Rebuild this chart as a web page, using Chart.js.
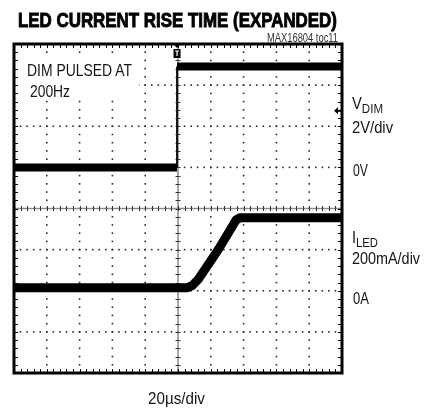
<!DOCTYPE html>
<html>
<head>
<meta charset="utf-8">
<title>LED Current Rise Time (Expanded)</title>
<script src="https://cdn.jsdelivr.net/npm/chart.js@4.4.1/dist/chart.umd.min.js"></script>
<style>
    html, body { margin: 0; padding: 0; background: #fff; }
    #wrap { position: relative; width: 426px; height: 411px; overflow: hidden; }
    #scope { position: absolute; left: 0; top: 0; }
    .note-bg { position: absolute; left: 19px; top: 57px; width: 120px; height: 43px; background: #fff; }
    .lbl {
        position: absolute;
        font-family: "Liberation Sans Narrow", "Liberation Sans", sans-serif;
        line-height: 1;
        white-space: nowrap;
        color: #151515;
        transform-origin: 0 0;
    }
    .lbl sub { font-size: 0.78em; vertical-align: baseline; position: relative; top: 4px; }
    .title { font-weight: bold; color: #000; -webkit-text-stroke: 0.9px #000; }
</style>
</head>
<body>
<div id="wrap">
    <canvas id="scope" width="426" height="411"></canvas>
    <div class="note-bg"></div>
    <div class="lbl title" data-w="319" style="left:18px; top:10px; font-size:20px;">LED CURRENT RISE TIME (EXPANDED)</div>
    <div class="lbl" data-w="71" style="left:267px; top:31.8px; font-size:12px; color:#333;">MAX16804 toc11</div>
    <div class="lbl" data-w="105" style="left:27px; top:62px; font-size:17px;">DIM PULSED AT</div>
    <div class="lbl" data-w="40" style="left:30px; top:82.6px; font-size:17px;">200Hz</div>
    <div class="lbl" data-w="31" style="left:352px; top:95px; font-size:17px;">V<sub>DIM</sub></div>
    <div class="lbl" data-w="41" style="left:352px; top:118.6px; font-size:17px;">2V/div</div>
    <div class="lbl" data-w="15" style="left:353px; top:162px; font-size:17px;">0V</div>
    <div class="lbl" data-w="26" style="left:352px; top:229px; font-size:17px;">I<sub>LED</sub></div>
    <div class="lbl" data-w="68" style="left:352px; top:249.6px; font-size:17px;">200mA/div</div>
    <div class="lbl" data-w="16" style="left:353px; top:289.6px; font-size:17px;">0A</div>
    <div class="lbl" data-w="57" style="left:147.5px; top:389.6px; font-size:17px;">20µs/div</div>
</div>
<script>
// --- Data (time in µs, trigger at 0) ---
const VDIM_TIME_US = [-100, -0.6, -0.6, 100];
const VDIM_VOLTS = [0, 0, 4.9, 4.9];

const ILED_TIME_US = [-100, 5.5, 8.5, 12.2, 24.4, 32.9, 35.4, 37.8, 100];
const ILED_MA = [15, 15, 24, 54, 198, 310, 344, 355, 355];

// --- Scope settings ---
const TIME_PER_DIV = 20;     // µs/div
const VOLTS_PER_DIV = 2;     // V/div
const MA_PER_DIV = 200;      // mA/div
const H_DIVS = 10;
const V_DIVS = 8;
const VDIM_ZERO_DIV = 3;     // 0V three divisions from top
const ILED_ZERO_DIV = 6;     // 0A six divisions from top
const TRIG_TIME_US = -0.6;
const TRIG_LEVEL_V = 2.75;

const X_MIN = -TIME_PER_DIV * H_DIVS / 2;
const X_MAX = TIME_PER_DIV * H_DIVS / 2;
const V_MAX = VOLTS_PER_DIV * VDIM_ZERO_DIV;
const V_MIN = V_MAX - VOLTS_PER_DIV * V_DIVS;
const I_MAX = MA_PER_DIV * ILED_ZERO_DIV;
const I_MIN = I_MAX - MA_PER_DIV * V_DIVS;

const toPoints = (xs, ys) => xs.map((x, i) => ({ x: x, y: ys[i] }));

// graticule, frame and markers, all placed through the scales
const scopePlugin = {
    id: 'scope',
    beforeDatasetsDraw(chart) {
        const { ctx, chartArea: a, scales: { x, yV } } = chart;
        const xMid = (X_MIN + X_MAX) / 2;
        const yMid = (V_MIN + V_MAX) / 2;
        ctx.save();

        // dotted major lines
        ctx.fillStyle = '#2a2a2a';
        for (let i = 1; i < H_DIVS; i++) {
            const t = X_MIN + i * TIME_PER_DIV;
            if (t === xMid) continue;
            const px = x.getPixelForValue(t);
            for (let j = 0; j <= V_DIVS * 5; j++) {
                const py = yV.getPixelForValue(V_MIN + j * VOLTS_PER_DIV / 5);
                ctx.fillRect(px - 0.8, py - 0.8, 1.6, 1.6);
            }
        }
        for (let j = 1; j < V_DIVS; j++) {
            const v = V_MIN + j * VOLTS_PER_DIV;
            if (v === yMid) continue;
            const py = yV.getPixelForValue(v);
            for (let i = 0; i <= H_DIVS * 5; i++) {
                const px = x.getPixelForValue(X_MIN + i * TIME_PER_DIV / 5);
                ctx.fillRect(px - 0.8, py - 0.8, 1.6, 1.6);
            }
        }

        // center axes with minor ticks
        const cx = x.getPixelForValue(xMid);
        const cy = yV.getPixelForValue(yMid);
        ctx.strokeStyle = '#8c8c8c';
        ctx.lineWidth = 1.5;
        ctx.beginPath();
        ctx.moveTo(a.left, cy); ctx.lineTo(a.right, cy);
        ctx.moveTo(cx, a.top); ctx.lineTo(cx, a.bottom);
        ctx.stroke();

        ctx.strokeStyle = '#333';
        ctx.lineWidth = 1;
        ctx.beginPath();
        for (let i = 0; i <= H_DIVS * 5; i++) {
            const px = Math.round(x.getPixelForValue(X_MIN + i * TIME_PER_DIV / 5)) + 0.5;
            ctx.moveTo(px, cy - 2.5); ctx.lineTo(px, cy + 2.5);
        }
        for (let j = 0; j <= V_DIVS * 5; j++) {
            const py = Math.round(yV.getPixelForValue(V_MIN + j * VOLTS_PER_DIV / 5)) + 0.5;
            ctx.moveTo(cx - 2.5, py); ctx.lineTo(cx + 2.5, py);
        }
        ctx.stroke();
        ctx.restore();
    },
    afterDraw(chart) {
        const { ctx, chartArea: a, scales: { x, yV } } = chart;
        ctx.save();

        // edge ticks
        ctx.strokeStyle = '#000';
        ctx.lineWidth = 1;
        ctx.beginPath();
        for (let i = 0; i <= H_DIVS * 5; i++) {
            const px = Math.round(x.getPixelForValue(X_MIN + i * TIME_PER_DIV / 5)) + 0.5;
            ctx.moveTo(px, a.top); ctx.lineTo(px, a.top + 4);
            ctx.moveTo(px, a.bottom); ctx.lineTo(px, a.bottom - 4);
        }
        for (let j = 0; j <= V_DIVS * 5; j++) {
            const py = Math.round(yV.getPixelForValue(V_MIN + j * VOLTS_PER_DIV / 5)) + 0.5;
            ctx.moveTo(a.left, py); ctx.lineTo(a.left + 4, py);
            ctx.moveTo(a.right, py); ctx.lineTo(a.right - 4, py);
        }
        ctx.stroke();

        // frame
        ctx.lineWidth = 3;
        ctx.strokeRect(a.left, a.top, a.right - a.left, a.bottom - a.top);

        // trigger position marker
        const tx = x.getPixelForValue(TRIG_TIME_US);
        ctx.fillStyle = '#000';
        ctx.beginPath();
        ctx.moveTo(tx - 3.5, a.top); ctx.lineTo(tx + 3.5, a.top); ctx.lineTo(tx, a.top + 4);
        ctx.fill();
        ctx.fillRect(tx - 3.5, a.top + 5, 7, 9);
        ctx.strokeStyle = '#fff';
        ctx.lineWidth = 1.2;
        ctx.beginPath();
        ctx.moveTo(tx - 2, a.top + 7); ctx.lineTo(tx + 2, a.top + 7);
        ctx.moveTo(tx, a.top + 7); ctx.lineTo(tx, a.top + 12);
        ctx.stroke();

        // trigger level arrow
        const ty = yV.getPixelForValue(TRIG_LEVEL_V);
        ctx.beginPath();
        ctx.moveTo(a.right - 8, ty); ctx.lineTo(a.right - 4, ty - 3.5); ctx.lineTo(a.right - 4, ty + 3.5);
        ctx.fill();
        ctx.fillRect(a.right - 5, ty - 1, 5, 2);
        ctx.restore();
    }
};

const chart = new Chart(document.getElementById('scope'), {
    type: 'line',
    data: {
        datasets: [
            {
                label: 'VDIM',
                data: toPoints(VDIM_TIME_US, VDIM_VOLTS),
                yAxisID: 'yV',
                borderColor: '#000',
                borderWidth: 8,
                borderJoinStyle: 'round',
                pointRadius: 0,
                segment: {
                    // fast edge shows up faint and thin on the scope
                    borderWidth: c => c.p0.parsed.x === c.p1.parsed.x ? 1.8 : 8
                }
            },
            {
                label: 'ILED',
                data: toPoints(ILED_TIME_US, ILED_MA),
                yAxisID: 'yI',
                borderColor: '#000',
                borderWidth: 9,
                borderJoinStyle: 'round',
                pointRadius: 0
            }
        ]
    },
    options: {
        responsive: false,
        devicePixelRatio: 1,
        animation: false,
        layout: { padding: { left: 14, top: 44, right: 84, bottom: 38 } },
        plugins: {
            legend: { display: false },
            tooltip: { enabled: false }
        },
        scales: {
            x: { type: 'linear', min: X_MIN, max: X_MAX, display: false },
            yV: { type: 'linear', min: V_MIN, max: V_MAX, display: false },
            yI: { type: 'linear', min: I_MIN, max: I_MAX, display: false }
        }
    },
    plugins: [scopePlugin]
});

// squeeze the labels to the narrow lettering of the original
function fitLabels() {
    document.querySelectorAll('.lbl[data-w]').forEach(el => {
        const w = el.getBoundingClientRect().width;
        const target = parseFloat(el.dataset.w);
        if (w > 0) el.style.transform = `scaleX(${(target / w).toFixed(3)})`;
    });
}
fitLabels();
if (document.fonts) document.fonts.ready.then(() => { document.querySelectorAll('.lbl').forEach(el => el.style.transform = ''); fitLabels(); });
</script>
</body>
</html>
